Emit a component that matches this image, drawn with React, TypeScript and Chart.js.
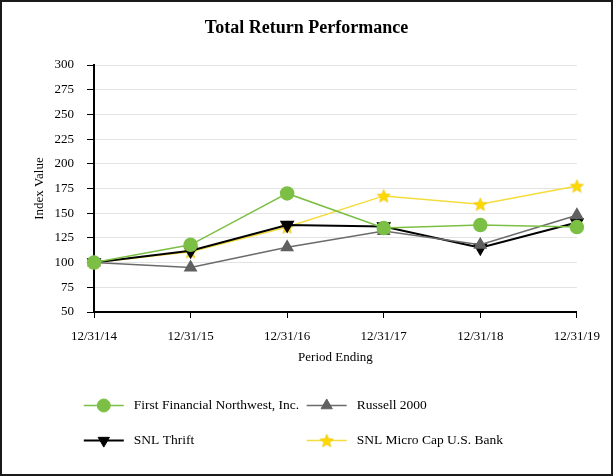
import React, { useEffect, useRef } from 'react';
import { Chart, registerables } from 'chart.js';
import { drawPoint } from 'chart.js/helpers';

Chart.register(...registerables);

const categories = ['12/31/14', '12/31/15', '12/31/16', '12/31/17', '12/31/18', '12/31/19'];
const ffnwValues = [100, 118, 170, 135, 138, 136];
const russellValues = [100, 95, 115.5, 132, 118, 148];
const thriftValues = [100, 112, 138, 136.5, 115, 140.5];
const microCapValues = [100, 111, 136, 167.5, 159, 177.5];
const yTickValues = [50, 75, 100, 125, 150, 175, 200, 225, 250, 275, 300];
const seriesLabels = ['First Financial Northwest, Inc.', 'Russell 2000', 'SNL Thrift', 'SNL Micro Cap U.S. Bank'];

const FONT = "'Liberation Serif', 'Times New Roman', serif";

function makeStar(size: number, fill: string, stroke: string): HTMLCanvasElement {
  const c = document.createElement('canvas');
  c.width = size;
  c.height = size;
  const ctx = c.getContext('2d')!;
  const cx = size / 2;
  const cy = size / 2 + 0.6;
  const R = size / 2 - 0.5;
  const r = R * 0.45;
  ctx.beginPath();
  for (let i = 0; i < 10; i++) {
    const a = -Math.PI / 2 + (i * Math.PI) / 5;
    const rad = i % 2 === 0 ? R : r;
    ctx.lineTo(cx + rad * Math.cos(a), cy + rad * Math.sin(a));
  }
  ctx.closePath();
  ctx.fillStyle = fill;
  ctx.fill();
  ctx.strokeStyle = stroke;
  ctx.lineWidth = 0.6;
  ctx.stroke();
  return c;
}

const gridLegend = {
  id: 'gridLegend',
  afterDraw(chart: any, _args: any, opts: any) {
    const ctx = chart.ctx as CanvasRenderingContext2D;
    chart.data.datasets.forEach((ds: any, i: number) => {
      const col = i % 2;
      const row = Math.floor(i / 2);
      const x0 = opts.colX[col];
      const y = opts.rowY[row];
      ctx.save();
      ctx.strokeStyle = ds.borderColor;
      ctx.lineWidth = ds.borderWidth;
      ctx.beginPath();
      ctx.moveTo(x0, y);
      ctx.lineTo(x0 + opts.lineLen, y);
      ctx.stroke();
      ctx.fillStyle = ds.pointBackgroundColor;
      ctx.strokeStyle = ds.pointBorderColor;
      ctx.lineWidth = 1;
      drawPoint(
        ctx,
        { pointStyle: ds.pointStyle, radius: ds.pointRadius, rotation: ds.pointRotation || 0, borderWidth: 1 } as any,
        x0 + opts.lineLen / 2,
        y
      );
      ctx.fillStyle = '#000';
      ctx.font = `13.5px ${FONT}`;
      ctx.textAlign = 'left';
      ctx.textBaseline = 'middle';
      ctx.fillText(ds.label, x0 + opts.textOffset, y);
      ctx.restore();
    });
  },
};

export default function App() {
  const ref = useRef<HTMLCanvasElement | null>(null);

  useEffect(() => {
    if (!ref.current) return;
    Chart.defaults.font.family = FONT;
    Chart.defaults.color = '#000';
    const star = makeStar(15, '#ffd800', '#e6c200');

    const chart = new Chart(ref.current, {
      type: 'line',
      data: {
        labels: categories,
        datasets: [
          {
            label: seriesLabels[0],
            data: ffnwValues,
            borderColor: '#7cbf45',
            backgroundColor: '#7cbf45',
            pointBackgroundColor: '#7cbf45',
            pointBorderColor: '#7cbf45',
            borderWidth: 1.5,
            pointStyle: 'circle',
            pointRadius: 6.5,
            pointRotation: 0,
            order: 0,
          },
          {
            label: seriesLabels[1],
            data: russellValues,
            borderColor: '#6b6b6b',
            backgroundColor: '#606060',
            pointBackgroundColor: '#606060',
            pointBorderColor: '#606060',
            borderWidth: 1.5,
            pointStyle: 'triangle',
            pointRadius: 6.5,
            pointRotation: 0,
            order: 1,
          },
          {
            label: seriesLabels[2],
            data: thriftValues,
            borderColor: '#000000',
            backgroundColor: '#000000',
            pointBackgroundColor: '#000000',
            pointBorderColor: '#000000',
            borderWidth: 2,
            pointStyle: 'triangle',
            pointRadius: 6.5,
            pointRotation: 180,
            order: 2,
          },
          {
            label: seriesLabels[3],
            data: microCapValues,
            borderColor: '#f5dc3c',
            backgroundColor: '#ffd800',
            pointBackgroundColor: '#ffd800',
            pointBorderColor: '#ffd800',
            borderWidth: 1.5,
            pointStyle: star,
            pointRadius: 7,
            pointRotation: 0,
            order: 3,
          },
        ] as any,
      },
      options: {
        animation: false,
        responsive: true,
        maintainAspectRatio: false,
        layout: { padding: { top: 0, left: 10, right: 10, bottom: 102 } },
        plugins: {
          legend: { display: false },
          tooltip: { enabled: false },
          title: {
            display: true,
            text: 'Total Return Performance',
            color: '#000',
            font: { size: 18, weight: 'bold', family: FONT },
            padding: { top: 15.7, bottom: 25.7 },
          },
          gridLegend: {
            colX: [81.8, 304.7],
            rowY: [403.5, 438.6],
            lineLen: 40,
            textOffset: 50,
          },
        } as any,
        scales: {
          x: {
            type: 'category',
            offset: false,
            grid: {
              drawOnChartArea: false,
              drawTicks: true,
              tickLength: 6,
              tickColor: '#000',
              tickWidth: 1,
            },
            border: { color: '#000', width: 2 },
            ticks: { color: '#000', font: { size: 13 }, padding: 11, maxRotation: 0 },
            title: {
              display: true,
              text: 'Period Ending',
              color: '#000',
              font: { size: 13 },
              padding: { top: 0, bottom: 6.5 },
            },
            afterFit: (s: any) => {
              s.height = 60;
            },
          },
          y: {
            min: yTickValues[0],
            max: yTickValues[yTickValues.length - 1],
            afterBuildTicks: (s: any) => {
              s.ticks = yTickValues.map((v) => ({ value: v }));
            },
            grid: {
              color: '#e3e3e3',
              lineWidth: 1,
              drawTicks: true,
              tickLength: 7,
              tickColor: '#000',
              tickWidth: 1,
            },
            border: { color: '#000', width: 2 },
            ticks: { color: '#000', font: { size: 13 }, padding: 13 },
            title: {
              display: true,
              text: 'Index Value',
              color: '#000',
              font: { size: 13 },
              padding: { top: 20, bottom: 0 },
            },
            afterFit: (s: any) => {
              s.width = 82;
            },
          },
          ySpacer: {
            type: 'linear',
            position: 'right',
            display: true,
            min: yTickValues[0],
            max: yTickValues[yTickValues.length - 1],
            grid: { display: false, drawOnChartArea: false, drawTicks: false },
            border: { display: false },
            ticks: { display: false },
            title: { display: false },
            afterFit: (s: any) => {
              s.width = 24;
            },
          },
        },
      } as any,
      plugins: [gridLegend],
    });
    return () => chart.destroy();
  }, []);

  return (
    <div
      style={{
        position: 'fixed',
        left: 0,
        top: 0,
        width: 613,
        height: 476,
        boxSizing: 'border-box',
        border: '2px solid #1a1a1a',
        background: '#fff',
      }}
    >
      <div style={{ position: 'relative', width: 609, height: 472 }}>
        <canvas ref={ref} />
      </div>
    </div>
  );
}
